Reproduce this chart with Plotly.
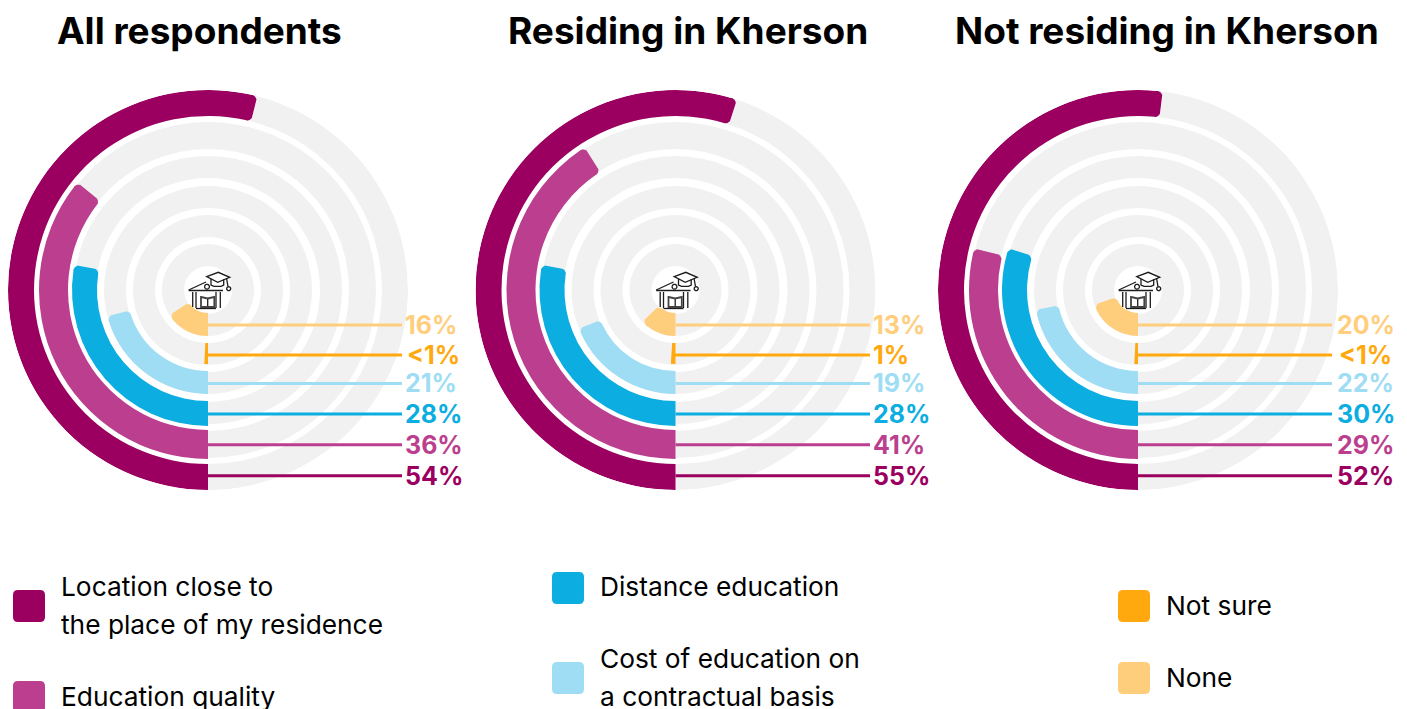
import math
import plotly.graph_objects as go

W, H = 1407, 709
PAGE_MARGIN = 8  # the page body offsets the figure by this many pixels

# ---- data ----
panel_titles = ["All respondents", "Residing in Kherson", "Not residing in Kherson"]
series_names = ["Location close to the place of my residence", "Education quality",
                "Distance education", "Cost of education on a contractual basis",
                "Not sure", "None"]
values_all = [54, 36, 28, 21, 0.8, 16]
values_residing = [55, 41, 28, 19, 1, 13]
values_not_residing = [52, 29, 30, 22, 0.8, 20]
labels_all = ["54%", "36%", "28%", "21%", "<1%", "16%"]
labels_residing = ["55%", "41%", "28%", "19%", "1%", "13%"]
labels_not_residing = ["52%", "29%", "30%", "22%", "<1%", "20%"]

# ---- style / layout ----
colors = ["#9B0060", "#BB3F8E", "#0CADE0", "#9EDDF4", "#FFA90E", "#FFCE7D"]
TRACK = "#F1F1F1"
ring_inner = [174, 141, 112, 82, 53, 24]
ring_outer = [200, 168, 134, 104, 75, 46]
bar_inner = [174, 140, 111, 81, 53, 23]
bar_outer = [200, 169, 136, 104, 74, 46]
line_y_r = [185.7, 154.7, 124, 93.5, 65, 35]
centers_x = [208, 675.5, 1138]
CY = 290
R = 200
line_end = [402, 870, 1332]
label_x = [403, 871, 1335]
title_cx = [199.5, 688, 1167]
FONT = "Inter"
CORNER = 5


def xp(x):
    return (x - PAGE_MARGIN) / W


def yp(y):
    return 1 - (y - PAGE_MARGIN) / H


def ptl(x, y):
    return f"{xp(x):.6f} {yp(y):.6f}"


def poly(points, close=False):
    s = "M " + " L ".join(ptl(x, y) for x, y in points)
    return s + (" Z" if close else "")


def circle(cx, cy, r):
    n = 24
    return poly([(cx + r * math.cos(2 * math.pi * i / n), cy + r * math.sin(2 * math.pi * i / n))
                 for i in range(n)], True)


def rounded_rect(x0, y0, x1, y1, r):
    return (f"M {ptl(x0 + r, y0)} L {ptl(x1 - r, y0)} Q {ptl(x1, y0)} {ptl(x1, y0 + r)} "
            f"L {ptl(x1, y1 - r)} Q {ptl(x1, y1)} {ptl(x1 - r, y1)} "
            f"L {ptl(x0 + r, y1)} Q {ptl(x0, y1)} {ptl(x0, y1 - r)} "
            f"L {ptl(x0, y0 + r)} Q {ptl(x0, y0)} {ptl(x0 + r, y0)} Z")


fig = go.Figure()
shapes = []
annotations = []
panels = [(values_all, labels_all), (values_residing, labels_residing),
          (values_not_residing, labels_not_residing)]
polar_layout = {}

for p, (vals, labs) in enumerate(panels):
    cx = centers_x[p]
    name = "polar" if p == 0 else f"polar{p + 1}"
    polar_layout[name] = dict(
        domain=dict(x=[max(0, xp(cx - R)), xp(cx + R)], y=[yp(CY + R), yp(CY - R)]),
        bgcolor="rgba(0,0,0,0)",
        barmode="overlay",
        radialaxis=dict(visible=False, range=[0, R]),
        angularaxis=dict(visible=False, direction="clockwise", rotation=-90, thetaunit="degrees"),
    )
    # grey tracks
    fig.add_trace(go.Barpolar(
        r=[o - i for o, i in zip(ring_outer, ring_inner)], base=ring_inner,
        theta=[180] * 6, width=[360] * 6, subplot=name,
        marker=dict(color=TRACK, line=dict(width=0)), hoverinfo="skip", showlegend=False))

    # value bars, with a softly rounded far end built from nested slices
    for k, v in enumerate(vals):
        inner, outer = bar_inner[k], bar_outer[k]
        end = v * 3.6
        deg = 180 / (math.pi * (inner + outer) / 2)
        rs, bs, ts, ws = [], [], [], []
        if end / deg <= CORNER * 1.5:
            rs, bs, ts, ws = [outer - inner], [inner], [end / 2], [end]
        else:
            main_end = end - CORNER * deg
            rs.append(outer - inner); bs.append(inner); ts.append(main_end / 2); ws.append(main_end)
            for a in [4.2, 3.4, 2.6, 1.8, 1.0, 0.4]:
                inset = CORNER - math.sqrt(CORNER ** 2 - (CORNER - a) ** 2)
                t0, t1 = main_end - 0.5 * deg, end - a * deg
                rs.append(outer - inner - 2 * inset); bs.append(inner + inset)
                ts.append((t0 + t1) / 2); ws.append(t1 - t0)
        fig.add_trace(go.Barpolar(
            r=rs, base=bs, theta=ts, width=ws, subplot=name, name=series_names[k],
            marker=dict(color=colors[k], line=dict(width=0)), hoverinfo="skip", showlegend=False))

        # leader line and label
        ly = CY + line_y_r[k]
        small = v < 2
        start = cx - (2 if small else 0)
        shapes.append(dict(type="line", xref="paper", yref="paper", x0=xp(start), x1=xp(line_end[p]),
                           y0=yp(ly), y1=yp(ly), line=dict(color=colors[k], width=3)))
        annotations.append(dict(text=labs[k], xref="paper", yref="paper", showarrow=False,
                                x=xp(label_x[p] + (2 if labs[k] == "<1%" else 0)), y=yp(ly),
                                xanchor="left", yanchor="middle",
                                font=dict(family=FONT, size=25, color=colors[k], weight=700)))

    annotations.append(dict(text=panel_titles[p], xref="paper", yref="paper", showarrow=False,
                            x=xp(title_cx[p]), y=yp(31), xanchor="center", yanchor="middle",
                            font=dict(family=FONT, size=37, color="#000000", weight=700)))

    # centre icon
    ic = dict(type="path", xref="paper", yref="paper", line=dict(color="#1C1C1C", width=1.3))
    icon_paths = [
        poly([(cx - 1.3, CY - 13.3), (cx + 10.3, CY - 17.7), (cx + 21.7, CY - 12.7), (cx + 9.7, CY - 7.7)], True),
        poly([(cx + 3, CY - 11), (cx + 3, CY - 5), (cx + 6, CY - 3.6), (cx + 13, CY - 3.6), (cx + 15.7, CY - 5), (cx + 15.7, CY - 10.7)]),
        poly([(cx + 18.5, CY - 12), (cx + 20, CY - 3.3)]),
        circle(cx + 20.7, CY - 1.3, 2),
        poly([(cx - 19.3, CY), (cx - 2, CY - 8)]),
        poly([(cx - 19.3, CY + 0.5), (cx + 15, CY + 0.5)]),
        circle(cx - 1, CY - 3.3, 2.4),
        poly([(cx - 15.3, CY + 2), (cx - 15.3, CY + 17)]),
        poly([(cx - 12, CY + 2), (cx - 12, CY + 18)]),
        poly([(cx + 8, CY + 2), (cx + 8, CY + 18)]),
        poly([(cx + 12.3, CY + 2), (cx + 12.3, CY + 18)]),
        poly([(cx - 0.3, CY + 8), (cx - 0.3, CY + 17)]),
        poly([(cx - 12, CY + 18.5), (cx + 8, CY + 18.5)]),
    ]
    for d in icon_paths:
        shapes.append({**ic, "path": d})
    shapes.append({**ic, "line": dict(color="#444444", width=1.8),
                   "path": poly([(cx - 7, CY + 7), (cx - 0.3, CY + 8.5), (cx + 6.3, CY + 7),
                                  (cx + 6.3, CY + 17), (cx - 7, CY + 17)], True)})

# legend
legend_boxes = [(13, 590, 0), (13, 681, 1), (552, 572, 2), (552, 662, 3), (1118, 590, 4), (1118, 662, 5)]
for x, y, k in legend_boxes:
    shapes.append(dict(type="path", xref="paper", yref="paper", path=rounded_rect(x, y, x + 32, y + 32, 5),
                       fillcolor=colors[k], line=dict(width=0)))

legend_texts = [("Location close to", 59, 586), ("the place of my residence", 59, 624),
                ("Education quality", 59, 696), ("Distance education", 598, 586),
                ("Cost of education on", 598, 658), ("a contractual basis", 598, 696),
                ("Not sure", 1164, 605), ("None", 1164, 677)]
for t, x, y in legend_texts:
    annotations.append(dict(text=t, xref="paper", yref="paper", showarrow=False, x=xp(x), y=yp(y),
                            xanchor="left", yanchor="middle",
                            font=dict(family=FONT, size=26.3, color="#000000")))

fig.update_layout(width=W, height=H, margin=dict(l=0, r=0, t=0, b=0), autosize=False,
                  paper_bgcolor="white", plot_bgcolor="white", showlegend=False,
                  shapes=shapes, annotations=annotations, **polar_layout)
fig.write_html("out.html", config={"displayModeBar": False})
